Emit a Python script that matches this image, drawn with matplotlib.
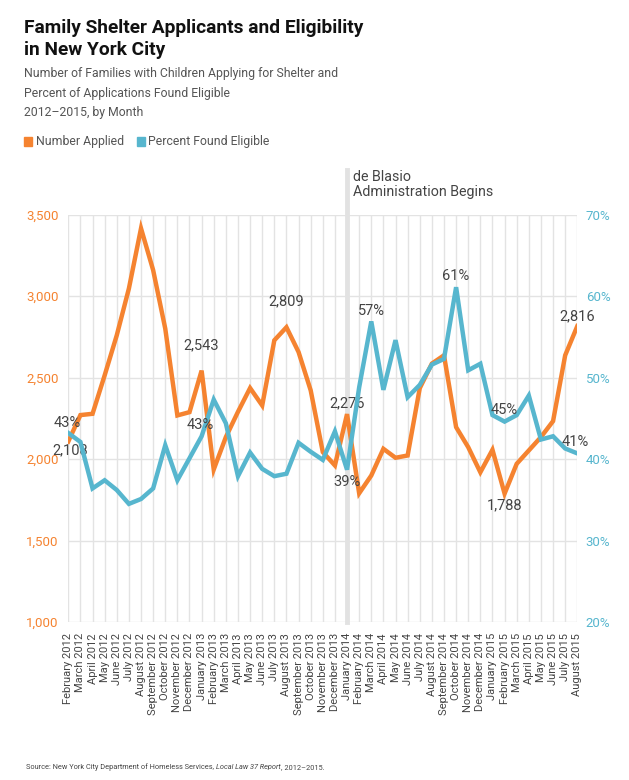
import matplotlib
matplotlib.use('Agg')
import matplotlib.pyplot as plt
from matplotlib.patches import Rectangle

plt.rcParams['font.family'] = ['Roboto', 'DejaVu Sans']

# monthly data, Feb 2012 - Aug 2015
months = ['February 2012', 'March 2012', 'April 2012', 'May 2012', 'June 2012', 'July 2012',
          'August 2012', 'September 2012', 'October 2012', 'November 2012', 'December 2012',
          'January 2013', 'February 2013', 'March 2013', 'April 2013', 'May 2013', 'June 2013',
          'July 2013', 'August 2013', 'September 2013', 'October 2013', 'November 2013',
          'December 2013', 'January 2014', 'February 2014', 'March 2014', 'April 2014',
          'May 2014', 'June 2014', 'July 2014', 'August 2014', 'September 2014', 'October 2014',
          'November 2014', 'December 2014', 'January 2015', 'February 2015', 'March 2015',
          'April 2015', 'May 2015', 'June 2015', 'July 2015', 'August 2015']

applied = [2108, 2270, 2278, 2514, 2760, 3047, 3416, 3160, 2801, 2268, 2288, 2543,
           1936, 2135, 2290, 2436, 2329, 2729, 2809, 2657, 2422, 2043, 1961, 2276,
           1790, 1899, 2063, 2008, 2022, 2435, 2586, 2637, 2196, 2073, 1919, 2057,
           1788, 1971, 2053, 2135, 2233, 2637, 2816]

eligible = [43.2, 42.1, 36.4, 37.4, 36.2, 34.5, 35.1, 36.4, 41.7, 37.4, 40.1, 42.8,
            47.3, 44.4, 37.9, 40.8, 38.8, 37.9, 38.2, 42.0, 40.9, 39.9, 43.4, 38.7,
            48.8, 56.9, 48.5, 54.6, 47.6, 49.1, 51.6, 52.3, 61.1, 50.9, 51.7, 45.4,
            44.6, 45.4, 47.8, 42.4, 42.8, 41.3, 40.7]

left_ticks = [1000, 1500, 2000, 2500, 3000, 3500]
right_ticks = [20, 30, 40, 50, 60, 70]

# (index, offset in pixels) for the value labels
applied_labels = [(0, (2, -9)), (11, (0, 25)), (18, (0, 26)), (23, (0, 11)), (36, (0, -12)), (42, (0, 10))]
eligible_labels = [(0, (-1, 10)), (11, (-1, 11)), (23, (0, -12)), (25, (0, 10)), (32, (0, 11)),
                   (36, (0, 12)), (42, (-2, 11))]

ORANGE = '#f58330'
BLUE = '#57b6ce'
GRID = '#e3e3e3'
TEXT = '#444444'

W, H = 629, 780
fig = plt.figure(figsize=(W / 100, H / 100), dpi=100)


def fx(x):
    return x / W


def fy(y):
    return 1 - y / H


ax_left, ax_right, ax_top, ax_bot = 68.3, 577.3, 214.7, 622
ax = fig.add_axes([fx(ax_left), fy(ax_bot), (ax_right - ax_left) / W, (ax_bot - ax_top) / H])
ax2 = ax.twinx()

x = list(range(len(months)))
ax.plot(x, applied, color=ORANGE, lw=3.2, solid_joinstyle='miter', zorder=3)
ax2.plot(x, eligible, color=BLUE, lw=3.2, solid_joinstyle='miter', zorder=3)

ax.set_xlim(0, len(months) - 1)
ax.set_ylim(1000, 3500)
ax2.set_ylim(20, 70)
ax.set_yticks(left_ticks)
ax.set_yticklabels(['{:,}'.format(v) for v in left_ticks])
ax2.set_yticks(right_ticks)
ax2.set_yticklabels(['{}%'.format(v) for v in right_ticks])
ax.set_xticks(x)
ax.set_xticklabels(months, rotation=90, fontsize=8, color=TEXT, va='top', ha='center')

ax.grid(True, color=GRID, lw=1)
ax.set_axisbelow(True)
for a in (ax, ax2):
    for s in a.spines.values():
        s.set_visible(False)
ax.tick_params(axis='x', length=0, pad=8)
ax.tick_params(axis='y', length=0, pad=7, labelsize=9.5, labelcolor=ORANGE)
ax2.tick_params(axis='y', length=0, pad=6, labelsize=9.5, labelcolor=BLUE)

# de Blasio marker
ax.axvline(23, ymin=0, ymax=(ax_bot - 170) / (ax_bot - ax_top), color='#e2e2e2', lw=3.5,
           clip_on=False, zorder=2)
fig.text(fx(353), fy(181), 'de Blasio', fontsize=10.3, color=TEXT, va='baseline')
fig.text(fx(353), fy(196), 'Administration Begins', fontsize=10.3, color=TEXT, va='baseline')

for i, off in applied_labels:
    ax.annotate('{:,}'.format(applied[i]), (i, applied[i]), xytext=off, textcoords='offset pixels',
                ha='center', va='center', fontsize=10.5, color=TEXT, zorder=5, annotation_clip=False)
for i, off in eligible_labels:
    ax2.annotate('{:.0f}%'.format(eligible[i]), (i, eligible[i]), xytext=off, textcoords='offset pixels',
                 ha='center', va='center', fontsize=10.5, color=TEXT, zorder=5, annotation_clip=False)

# titles
fig.text(fx(24), fy(33), 'Family Shelter Applicants and Eligibility', fontsize=13.8,
         fontweight='bold', color='#111111', va='baseline')
fig.text(fx(24), fy(55), 'in New York City', fontsize=13.8, fontweight='bold',
         color='#111111', va='baseline')
sub = ['Number of Families with Children Applying for Shelter and',
       'Percent of Applications Found Eligible',
       '2012\u20132015, by Month']
for k, line in enumerate(sub):
    fig.text(fx(24), fy(77 + 19.7 * k), line, fontsize=8.8, color='#555555', va='baseline')

# legend
fig.patches.append(Rectangle((fx(24), fy(146)), 8 / W, 9 / H, transform=fig.transFigure,
                             color=ORANGE, figure=fig))
fig.text(fx(36), fy(145), 'Number Applied', fontsize=8.8, color='#555555', va='baseline')
fig.patches.append(Rectangle((fx(137), fy(146)), 8 / W, 9 / H, transform=fig.transFigure,
                             color=BLUE, figure=fig))
fig.text(fx(148), fy(145), 'Percent Found Eligible', fontsize=8.8, color='#555555', va='baseline')

# source line with italic report name
renderer = fig.canvas.get_renderer()
parts = [('Source: New York City Department of Homeless Services, ', 'normal'),
         ('Local Law 37 Report', 'italic'),
         (', 2012\u20132015.', 'normal')]
xpos = 26
for txt, style in parts:
    t = fig.text(fx(xpos), fy(769), txt, fontsize=5.3, color=TEXT, style=style, va='baseline')
    bb = t.get_window_extent(renderer)
    xpos += bb.width

fig.savefig('out.png', dpi=100)
